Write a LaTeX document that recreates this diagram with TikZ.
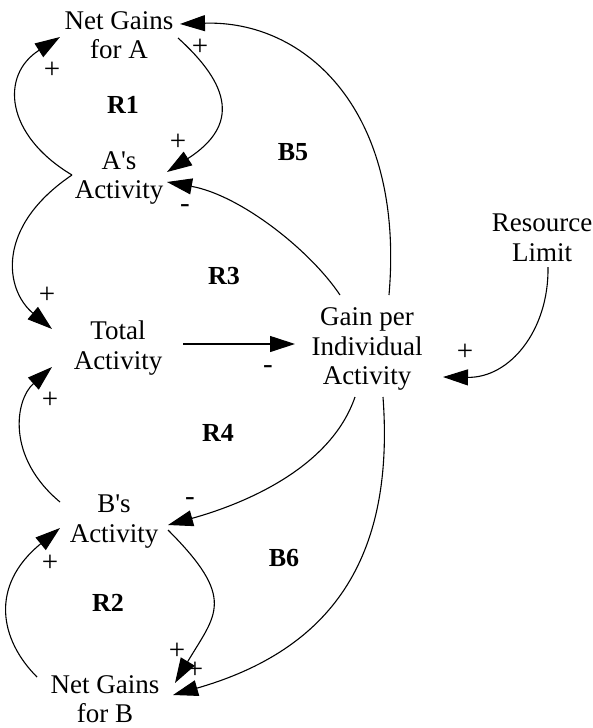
\documentclass[tikz,border=0pt]{standalone}
\usepackage{fontspec}
\setmainfont{Liberation Serif}
\usetikzlibrary{arrows.meta,calc}

\tikzset{
  var/.style={align=center, inner sep=0pt, font=\fontsize{27}{29.5}\selectfont},
  loopname/.style={inner sep=0pt, font=\fontsize{26}{26}\selectfont\bfseries},
  polarity/.style={inner sep=0pt, font=\fontsize{29}{29}\selectfont},
  link/.style={line width=1.1pt, -{Triangle[length=25pt,width=16pt]}},
}

\begin{document}
\begin{tikzpicture}[x=1pt, y=-1pt]
\useasboundingbox (0,0) rectangle (592,728);

% variables
\node[var] (ngA)  at (119,35)    {Net Gains\\for A};
\node[var] (asA)  at (119,178)   {A\textquotesingle s\\Activity};
\node[var] (tot)  at (118,348)   {Total\\Activity};
\node[var] (gain) at (367,349)   {Gain per\\Individual\\Activity};
\node[var] (res)  at (542,238)   {Resource\\Limit};
\node[var] (bsB)  at (114,521.5) {B\textquotesingle s\\Activity};
\node[var] (ngB)  at (105,699)   {Net Gains\\for B};

% loop identifiers
\node[loopname] (r1) at (123,105) {R1};
\node[loopname] (b5) at (293,152) {B5};
\node[loopname] (r3) at (224,276) {R3};
\node[loopname] (r4) at (218,433) {R4};
\node[loopname] (b6) at (284,558) {B6};
\node[loopname] (r2) at (108,603) {R2};

% link polarities
\node[polarity] (p1)  at (52,70)   {+};
\node[polarity] (p2)  at (200,47)  {+};
\node[polarity] (p3)  at (178,142) {+};
\node[polarity] (p4)  at (185,209) {-};
\node[polarity] (p5)  at (47,295)  {+};
\node[polarity] (p6)  at (268,370) {-};
\node[polarity] (p7)  at (50,400)  {+};
\node[polarity] (p8)  at (465,352) {+};
\node[polarity] (p9)  at (190,502) {-};
\node[polarity] (p10) at (50,563)  {+};
\node[polarity] (p11) at (177,651) {+};
\node[polarity] (p12) at (195,670) {+};

% causal links
\draw[link] ($(asA)+(-47,-3)$) .. controls +(-67,-40) and +(-60,38) .. ($(ngA)+(-59,2)$);
\draw[link] ($(ngA)+(59,3)$) .. controls +(52,47) and +(73,-47) .. ($(asA)+(48,-6)$);
\draw[link] ($(gain)+(22,-54)$) .. controls +(16,-185) and +(125,-4) .. ($(ngA)+(61,-11)$);
\draw[link] ($(gain)+(-27,-54)$) .. controls +(-30,-45) and +(73,13) .. ($(asA)+(48,4)$);
\draw[link] ($(asA)+(-47,-3)$) .. controls +(-77,52) and +(-47,-39) .. ($(tot)+(-66,-19)$);
\draw[link] ($(tot)+(65,-4)$) -- ($(gain)+(-72,-5)$);
\draw[link] ($(bsB)+(-54,-19.5)$) .. controls +(-54,-45) and +(-37,33) .. ($(tot)+(-66,19)$);
\draw[link] ($(gain)+(-12,48)$) .. controls +(-25,73) and +(72,-20) .. ($(bsB)+(54,3.5)$);
\draw[link] ($(gain)+(16,48)$) .. controls +(12,163) and +(157,-45) .. ($(ngB)+(68,-4)$);
\draw[link] ($(bsB)+(54,8.5)$) .. controls +(69,69) and +(41,-69) .. ($(ngB)+(70,-16)$);
\draw[link] ($(ngB)+(-68,-22)$) .. controls +(-37,-37) and +(-71,58) .. ($(bsB)+(-54,6.5)$);
\draw[link] ($(res)+(6,29)$) .. controls +(1,63) and +(67,1) .. ($(gain)+(76,28)$);
\end{tikzpicture}
\end{document}
